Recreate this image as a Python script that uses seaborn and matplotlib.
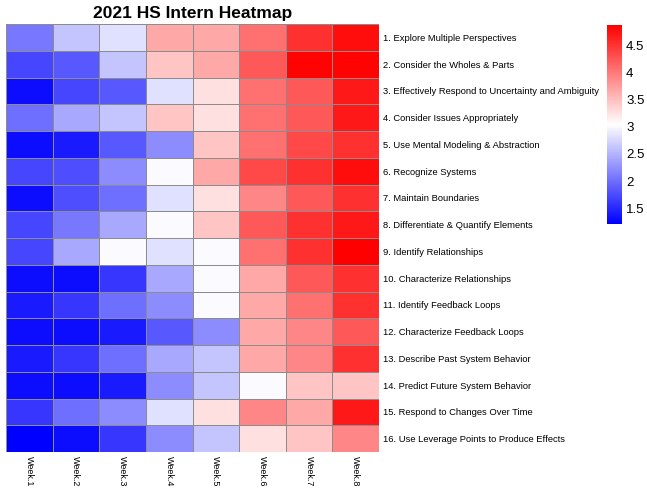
import matplotlib
matplotlib.use('Agg')
import matplotlib.pyplot as plt
from matplotlib.colors import LinearSegmentedColormap
import numpy as np
import pandas as pd
import seaborn as sns

## datos
weeks = ['Week.1', 'Week.2', 'Week.3', 'Week.4', 'Week.5', 'Week.6', 'Week.7', 'Week.8']
skills = [
    '1. Explore Multiple Perspectives',
    '2. Consider the Wholes & Parts',
    '3. Effectively Respond to Uncertainty and Ambiguity',
    '4. Consider Issues Appropriately',
    '5. Use Mental Modeling & Abstraction',
    '6. Recognize Systems',
    '7. Maintain Boundaries',
    '8. Differentiate & Quantify Elements',
    '9. Identify Relationships',
    '10. Characterize Relationships',
    '11. Identify Feedback Loops',
    '12. Characterize Feedback Loops',
    '13. Describe Past System Behavior',
    '14. Predict Future System Behavior',
    '15. Respond to Changes Over Time',
    '16. Use Leverage Points to Produce Effects',
]
week1 = [2.07, 1.72, 1.30, 2.00, 1.30, 1.72, 1.30, 1.72, 1.72, 1.30, 1.40, 1.30, 1.40, 1.30, 1.60, 1.21]
week2 = [2.62, 1.85, 1.72, 2.42, 1.40, 1.78, 1.78, 2.07, 2.42, 1.30, 1.60, 1.30, 1.60, 1.30, 2.00, 1.30]
week3 = [2.82, 2.62, 1.85, 2.62, 1.85, 2.22, 2.00, 2.42, 3.00, 1.60, 2.00, 1.40, 2.00, 1.40, 2.22, 1.60]
week4 = [3.66, 3.46, 2.82, 3.46, 2.22, 3.00, 2.82, 3.00, 2.82, 2.42, 2.22, 1.85, 2.42, 2.22, 2.82, 2.22]
week5 = [3.66, 3.66, 3.26, 3.26, 3.46, 3.66, 3.26, 3.46, 3.00, 3.00, 3.00, 2.22, 2.62, 2.62, 3.26, 2.62]
week6 = [4.06, 4.23, 4.06, 4.06, 4.06, 4.35, 3.90, 4.23, 4.06, 3.66, 3.66, 3.66, 3.66, 3.00, 3.90, 3.26]
week7 = [4.52, 4.85, 4.23, 4.23, 4.35, 4.52, 4.23, 4.52, 4.52, 4.23, 4.06, 3.90, 3.90, 3.46, 3.66, 3.46]
week8 = [4.78, 4.85, 4.69, 4.69, 4.52, 4.78, 4.52, 4.69, 4.87, 4.52, 4.52, 4.23, 4.52, 3.46, 4.69, 3.90]

df = pd.DataFrame({'Week.1': week1, 'Week.2': week2, 'Week.3': week3, 'Week.4': week4,
                   'Week.5': week5, 'Week.6': week6, 'Week.7': week7, 'Week.8': week8},
                  index=skills)

sns.set_style('white')
plt.rcParams['font.family'] = ['Liberation Sans', 'DejaVu Sans']
plt.rcParams['text.color'] = 'black'
plt.rcParams['xtick.color'] = 'black'
plt.rcParams['ytick.color'] = 'black'
plt.rcParams['axes.titlecolor'] = 'black'

cmap = LinearSegmentedColormap.from_list('bwr2', ['#0000FF', '#FFFFFF', '#FF0000'])

fig = plt.figure(figsize=(6.47, 4.96), dpi=100)
W, H = 647, 496
ax = fig.add_axes([6 / W, 1 - 452 / H, 373 / W, 428 / H])
cax = fig.add_axes([607 / W, 1 - 224 / H, 15 / W, 199 / H])

sns.heatmap(df, ax=ax, cbar_ax=cax, cmap=cmap, vmin=1.21, vmax=4.87,
            linewidths=0.7, linecolor='#8c8c8c')

## etiquetas de filas a la derecha
ax.yaxis.tick_right()
ax.set_yticks(np.arange(len(skills)) + 0.5)
ax.set_yticklabels(skills, rotation=0, fontsize=6.75, ha='left')
ax.set_xticks(np.arange(len(weeks)) + 0.5)
ax.set_xticklabels(weeks, rotation=270, fontsize=6.5, va='top', ha='center')
ax.tick_params(axis='both', length=0, pad=3)
ax.set_xlabel('')
ax.set_ylabel('')

ax.set_title('2021 HS Intern Heatmap', fontsize=12.5, fontweight='bold', pad=4)

cax.tick_params(labelsize=9.5, length=0, pad=3)
cax.set_yticks([1.5, 2, 2.5, 3, 3.5, 4, 4.5])
cax.set_yticklabels(['1.5', '2', '2.5', '3', '3.5', '4', '4.5'])
for s in cax.spines.values():
    s.set_visible(False)

fig.savefig('out.png', dpi=100)
